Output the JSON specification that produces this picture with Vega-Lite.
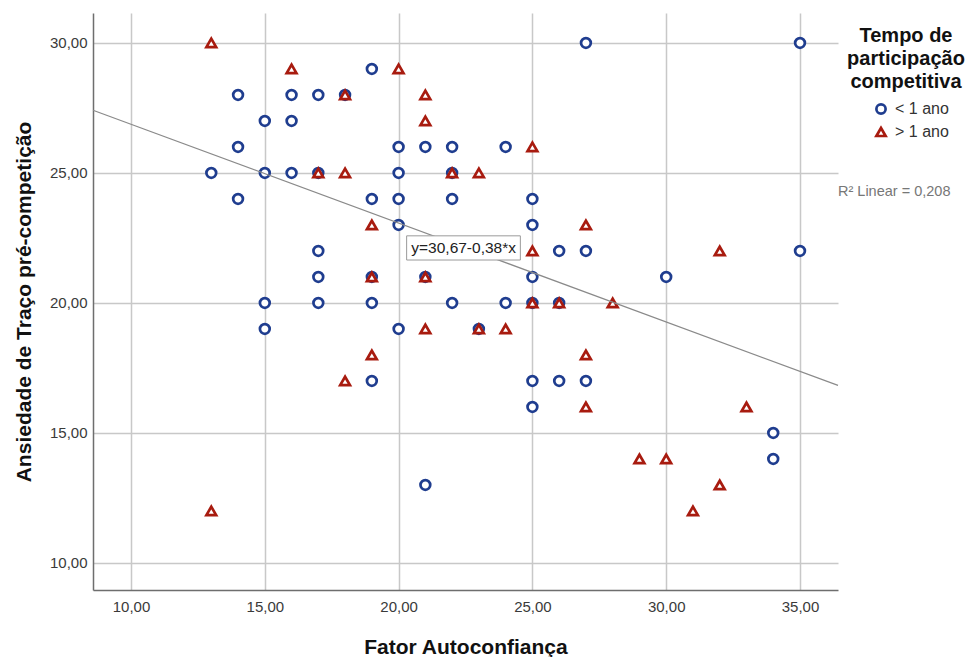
{
  "$schema": "https://vega.github.io/schema/vega-lite/v6.json",
  "width": 745,
  "height": 577,
  "autosize": {"type": "none"},
  "padding": {"left": 93, "top": 13, "right": 138, "bottom": 67},
  "background": "white",
  "config": {
    "view": {"stroke": null},
    "font": "Liberation Sans",
    "axis": {
      "labelFont": "Liberation Sans",
      "labelFontSize": 15,
      "labelColor": "#3a3a3a",
      "titleFont": "Liberation Sans",
      "titleFontSize": 21,
      "titleFontWeight": "bold",
      "titleColor": "#111111",
      "domainColor": "#6e6e6e",
      "domainWidth": 1.5,
      "gridColor": "#c8c8c8",
      "gridWidth": 1.5,
      "gridOpacity": 1,
      "ticks": false
    },
    "legend": {
      "titleFont": "Liberation Sans",
      "labelFont": "Liberation Sans"
    }
  },
  "datasets": {
    "points": [
      {"fator": 13, "ansiedade": 25, "tempo": "< 1 ano"},
      {"fator": 14, "ansiedade": 28, "tempo": "< 1 ano"},
      {"fator": 14, "ansiedade": 26, "tempo": "< 1 ano"},
      {"fator": 14, "ansiedade": 24, "tempo": "< 1 ano"},
      {"fator": 15, "ansiedade": 27, "tempo": "< 1 ano"},
      {"fator": 15, "ansiedade": 25, "tempo": "< 1 ano"},
      {"fator": 15, "ansiedade": 20, "tempo": "< 1 ano"},
      {"fator": 15, "ansiedade": 19, "tempo": "< 1 ano"},
      {"fator": 16, "ansiedade": 28, "tempo": "< 1 ano"},
      {"fator": 16, "ansiedade": 27, "tempo": "< 1 ano"},
      {"fator": 16, "ansiedade": 25, "tempo": "< 1 ano"},
      {"fator": 17, "ansiedade": 28, "tempo": "< 1 ano"},
      {"fator": 17, "ansiedade": 25, "tempo": "< 1 ano"},
      {"fator": 17, "ansiedade": 22, "tempo": "< 1 ano"},
      {"fator": 17, "ansiedade": 21, "tempo": "< 1 ano"},
      {"fator": 17, "ansiedade": 20, "tempo": "< 1 ano"},
      {"fator": 18, "ansiedade": 28, "tempo": "< 1 ano"},
      {"fator": 19, "ansiedade": 29, "tempo": "< 1 ano"},
      {"fator": 19, "ansiedade": 24, "tempo": "< 1 ano"},
      {"fator": 19, "ansiedade": 21, "tempo": "< 1 ano"},
      {"fator": 19, "ansiedade": 20, "tempo": "< 1 ano"},
      {"fator": 19, "ansiedade": 17, "tempo": "< 1 ano"},
      {"fator": 20, "ansiedade": 26, "tempo": "< 1 ano"},
      {"fator": 20, "ansiedade": 25, "tempo": "< 1 ano"},
      {"fator": 20, "ansiedade": 24, "tempo": "< 1 ano"},
      {"fator": 20, "ansiedade": 23, "tempo": "< 1 ano"},
      {"fator": 20, "ansiedade": 19, "tempo": "< 1 ano"},
      {"fator": 21, "ansiedade": 26, "tempo": "< 1 ano"},
      {"fator": 21, "ansiedade": 21, "tempo": "< 1 ano"},
      {"fator": 21, "ansiedade": 13, "tempo": "< 1 ano"},
      {"fator": 22, "ansiedade": 26, "tempo": "< 1 ano"},
      {"fator": 22, "ansiedade": 25, "tempo": "< 1 ano"},
      {"fator": 22, "ansiedade": 24, "tempo": "< 1 ano"},
      {"fator": 22, "ansiedade": 20, "tempo": "< 1 ano"},
      {"fator": 23, "ansiedade": 19, "tempo": "< 1 ano"},
      {"fator": 24, "ansiedade": 26, "tempo": "< 1 ano"},
      {"fator": 24, "ansiedade": 20, "tempo": "< 1 ano"},
      {"fator": 25, "ansiedade": 24, "tempo": "< 1 ano"},
      {"fator": 25, "ansiedade": 23, "tempo": "< 1 ano"},
      {"fator": 25, "ansiedade": 21, "tempo": "< 1 ano"},
      {"fator": 25, "ansiedade": 20, "tempo": "< 1 ano"},
      {"fator": 25, "ansiedade": 17, "tempo": "< 1 ano"},
      {"fator": 25, "ansiedade": 16, "tempo": "< 1 ano"},
      {"fator": 26, "ansiedade": 22, "tempo": "< 1 ano"},
      {"fator": 26, "ansiedade": 20, "tempo": "< 1 ano"},
      {"fator": 26, "ansiedade": 17, "tempo": "< 1 ano"},
      {"fator": 27, "ansiedade": 30, "tempo": "< 1 ano"},
      {"fator": 27, "ansiedade": 22, "tempo": "< 1 ano"},
      {"fator": 27, "ansiedade": 17, "tempo": "< 1 ano"},
      {"fator": 30, "ansiedade": 21, "tempo": "< 1 ano"},
      {"fator": 34, "ansiedade": 15, "tempo": "< 1 ano"},
      {"fator": 34, "ansiedade": 14, "tempo": "< 1 ano"},
      {"fator": 35, "ansiedade": 30, "tempo": "< 1 ano"},
      {"fator": 35, "ansiedade": 22, "tempo": "< 1 ano"},
      {"fator": 13, "ansiedade": 30, "tempo": "> 1 ano"},
      {"fator": 13, "ansiedade": 12, "tempo": "> 1 ano"},
      {"fator": 16, "ansiedade": 29, "tempo": "> 1 ano"},
      {"fator": 17, "ansiedade": 25, "tempo": "> 1 ano"},
      {"fator": 18, "ansiedade": 28, "tempo": "> 1 ano"},
      {"fator": 18, "ansiedade": 25, "tempo": "> 1 ano"},
      {"fator": 18, "ansiedade": 17, "tempo": "> 1 ano"},
      {"fator": 19, "ansiedade": 23, "tempo": "> 1 ano"},
      {"fator": 19, "ansiedade": 21, "tempo": "> 1 ano"},
      {"fator": 19, "ansiedade": 18, "tempo": "> 1 ano"},
      {"fator": 20, "ansiedade": 29, "tempo": "> 1 ano"},
      {"fator": 21, "ansiedade": 28, "tempo": "> 1 ano"},
      {"fator": 21, "ansiedade": 27, "tempo": "> 1 ano"},
      {"fator": 21, "ansiedade": 21, "tempo": "> 1 ano"},
      {"fator": 21, "ansiedade": 19, "tempo": "> 1 ano"},
      {"fator": 22, "ansiedade": 25, "tempo": "> 1 ano"},
      {"fator": 23, "ansiedade": 25, "tempo": "> 1 ano"},
      {"fator": 23, "ansiedade": 19, "tempo": "> 1 ano"},
      {"fator": 24, "ansiedade": 19, "tempo": "> 1 ano"},
      {"fator": 25, "ansiedade": 26, "tempo": "> 1 ano"},
      {"fator": 25, "ansiedade": 22, "tempo": "> 1 ano"},
      {"fator": 25, "ansiedade": 20, "tempo": "> 1 ano"},
      {"fator": 26, "ansiedade": 20, "tempo": "> 1 ano"},
      {"fator": 27, "ansiedade": 23, "tempo": "> 1 ano"},
      {"fator": 27, "ansiedade": 18, "tempo": "> 1 ano"},
      {"fator": 27, "ansiedade": 16, "tempo": "> 1 ano"},
      {"fator": 28, "ansiedade": 20, "tempo": "> 1 ano"},
      {"fator": 29, "ansiedade": 14, "tempo": "> 1 ano"},
      {"fator": 30, "ansiedade": 14, "tempo": "> 1 ano"},
      {"fator": 31, "ansiedade": 12, "tempo": "> 1 ano"},
      {"fator": 32, "ansiedade": 22, "tempo": "> 1 ano"},
      {"fator": 32, "ansiedade": 13, "tempo": "> 1 ano"},
      {"fator": 33, "ansiedade": 16, "tempo": "> 1 ano"}
    ],
    "fit": [
      {"fator": 8.58, "ansiedade": 27.41},
      {"fator": 36.42, "ansiedade": 16.83}
    ],
    "eqbox": [
      {"x1": 20.3, "x2": 24.55, "y1": 21.65, "y2": 22.58}
    ],
    "eqlabel": [
      {"fator": 22.43, "ansiedade": 22.1, "label": "y=30,67-0,38*x"}
    ],
    "r2label": [
      {"fator": 36.42, "ansiedade": 24.27, "label": "R² Linear = 0,208"}
    ]
  },
  "layer": [
    {
      "data": {"name": "points"},
      "mark": {"type": "point", "filled": false, "fill": "white", "strokeWidth": 2.7, "opacity": 1},
      "encoding": {
        "x": {
          "field": "fator", "type": "quantitative",
          "scale": {"domain": [8.58, 36.42], "nice": false, "zero": false},
          "axis": {
            "title": "Fator Autoconfiança",
            "values": [10, 15, 20, 25, 30, 35],
            "labelExpr": "replace(format(datum.value, '.2f'), '.', ',')",
            "labelPadding": 9,
            "titlePadding": 22,
            "grid": true
          }
        },
        "y": {
          "field": "ansiedade", "type": "quantitative",
          "scale": {"domain": [8.96, 31.15], "nice": false, "zero": false},
          "axis": {
            "title": "Ansiedade de Traço pré-competição",
            "values": [10, 15, 20, 25, 30],
            "labelExpr": "replace(format(datum.value, '.2f'), '.', ',')",
            "labelPadding": 6,
            "titlePadding": 15,
            "grid": true
          }
        },
        "color": {
          "field": "tempo", "type": "nominal",
          "scale": {"domain": ["< 1 ano", "> 1 ano"], "range": ["#1f3d8f", "#a81b0f"]},
          "legend": {
            "title": ["Tempo de", "participação", "competitiva"],
            "orient": "none",
            "legendX": 754,
            "legendY": 13,
            "titleFontSize": 20,
            "titleFontWeight": "bold",
            "titleColor": "#111111",
            "titleLineHeight": 23,
            "titleAlign": "center",
            "titleAnchor": "middle",
            "titlePadding": 9,
            "labelFontSize": 16,
            "labelColor": "#333333",
            "symbolStrokeWidth": 2.7,
            "symbolSize": 85,
            "symbolOffset": 9,
            "labelOffset": 6,
            "rowPadding": 2
          }
        },
        "shape": {
          "field": "tempo", "type": "nominal",
          "scale": {"domain": ["< 1 ano", "> 1 ano"], "range": ["circle", "triangle-up"]},
          "legend": null
        },
        "size": {"value": 95}
      }
    },
    {
      "data": {"name": "fit"},
      "mark": {"type": "line", "color": "#8a8a8a", "strokeWidth": 1.2},
      "encoding": {
        "x": {"field": "fator", "type": "quantitative"},
        "y": {"field": "ansiedade", "type": "quantitative"}
      }
    },
    {
      "data": {"name": "eqbox"},
      "mark": {"type": "rect", "fill": "white", "stroke": "#9a9a9a", "strokeWidth": 1},
      "encoding": {
        "x": {"field": "x1", "type": "quantitative"},
        "x2": {"field": "x2"},
        "y": {"field": "y1", "type": "quantitative"},
        "y2": {"field": "y2"}
      }
    },
    {
      "data": {"name": "eqlabel"},
      "mark": {"type": "text", "font": "Liberation Sans", "fontSize": 15.5, "color": "#222222", "align": "center", "baseline": "middle"},
      "encoding": {
        "x": {"field": "fator", "type": "quantitative"},
        "y": {"field": "ansiedade", "type": "quantitative"},
        "text": {"field": "label"}
      }
    },
    {
      "data": {"name": "r2label"},
      "mark": {"type": "text", "font": "Liberation Sans", "fontSize": 14.5, "color": "#777777", "align": "left", "baseline": "middle", "dx": 0},
      "encoding": {
        "x": {"field": "fator", "type": "quantitative"},
        "y": {"field": "ansiedade", "type": "quantitative"},
        "text": {"field": "label"}
      }
    }
  ]
}
